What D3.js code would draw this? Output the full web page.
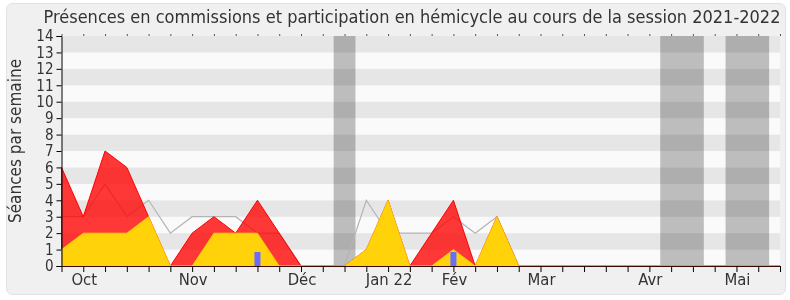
<!DOCTYPE html>
<html>
<head>
<meta charset="utf-8">
<script src="https://cdn.jsdelivr.net/npm/d3@7"></script>
<style>
  body { margin: 0; background: #fff; }
  svg text { font-family: "DejaVu Sans Condensed", "DejaVu Sans", sans-serif; font-stretch: condensed; fill: #333; }
</style>
</head>
<body>
<script>
// weekly values, week 0 = first week of the session
var commissions = [6,3,7,6,3,0,2,3,2,4,2,0,0,0,1,4,0,2,4,0,3,0,0,0,0,0,0,0,0,0,0,0,0,0];
var hemicycle   = [1,2,2,2,3,0,0,2,2,2,0,0,0,0,1,4,0,0,1,0,3,0,0,0,0,0,0,0,0,0,0,0,0,0];
var mediane     = [3,3,5,3,4,2,3,3,3,2,2,0,0,0,4,2,2,2,3,2,3,0,0,0,0,0,0,0,0,0,0,0,0,0];
var questionsWeeks = [9, 18];
var questionsVals  = [0.85, 0.85];
var vacances = [[12.5,13.5],[27.5,29.5],[30.5,32.5]];
var monthLabels = ["Oct","Nov","Déc","Jan 22","Fév","Mar","Avr","Mai"];
var monthWeeks  = [1, 6, 11, 15, 18, 22, 27, 31];
var yTicks = [0,1,2,3,4,5,6,7,8,9,10,11,12,13,14];

var width = 790, height = 300;
var svg = d3.select("body").append("svg")
    .attr("width", width).attr("height", height);

// panel
svg.append("rect")
    .attr("x", 6.5).attr("y", 3.5).attr("width", 779).attr("height", 291)
    .attr("rx", 6).attr("fill", "#f0f0f0").attr("stroke", "#e2e2e2");

var x = d3.scaleLinear().domain([0, 33]).range([61.5, 780]);
var y = d3.scaleLinear().domain([0, 14]).range([266, 36]);

// stripes
svg.selectAll(".stripe")
    .data(yTicks.slice(0, 14))
  .enter().append("rect")
    .attr("x", x(0)).attr("width", x(33) - x(0))
    .attr("y", function(d){ return y(d + 1); })
    .attr("height", function(d){ return y(d) - y(d + 1); })
    .attr("fill", function(d){ return d % 2 ? "#e6e6e6" : "#fafafa"; });

// holidays
svg.selectAll(".vac")
    .data(vacances)
  .enter().append("rect")
    .attr("x", function(d){ return x(d[0]); })
    .attr("width", function(d){ return x(d[1]) - x(d[0]); })
    .attr("y", y(14)).attr("height", y(0) - y(14))
    .attr("fill", "#c1c1c1")
    .style("mix-blend-mode", "multiply");

// median line
var line = d3.line()
    .x(function(d, i){ return x(i); })
    .y(function(d){ return y(d); });
svg.append("path")
    .datum(mediane)
    .attr("d", line)
    .attr("fill", "none").attr("stroke", "#b4b4b4").attr("stroke-width", 1.2);

var area = d3.area()
    .x(function(d, i){ return x(i); })
    .y0(y(0))
    .y1(function(d){ return y(d); });

svg.append("path")
    .datum(commissions)
    .attr("d", area)
    .attr("fill", "rgba(255,0,0,0.78)").attr("stroke", "#ff0000").attr("stroke-width", 1);

svg.append("path")
    .datum(hemicycle)
    .attr("d", area)
    .attr("fill", "#ffd20a").attr("stroke", "#ffd700").attr("stroke-width", 0.8);

// questions
svg.selectAll(".q")
    .data(questionsWeeks)
  .enter().append("rect")
    .attr("x", function(d){ return x(d) - 3; })
    .attr("width", 6)
    .attr("y", function(d, i){ return y(questionsVals[i]); })
    .attr("height", function(d, i){ return y(0) - y(questionsVals[i]); })
    .attr("fill", "#6b6bff");

// axes
var weeks = d3.range(0, 34);
var yAxis = d3.axisLeft(y).tickValues(yTicks).tickSize(5).tickPadding(3);
var gy = svg.append("g").attr("transform", "translate(61.5,0)").call(yAxis);
gy.select(".domain").attr("stroke", "#000");
gy.selectAll("text").style("font-size", "15px").attr("fill", "#333");

var xAxis = d3.axisBottom(x).tickValues(weeks).tickSize(6).tickFormat("");
var gx = svg.append("g").attr("transform", "translate(0,266)").call(xAxis);
gx.select(".domain").attr("stroke", "#3a0a00").attr("d", "M61.5,0.5H780.5");

var xTop = d3.axisTop(x).tickValues(weeks).tickSize(2).tickFormat("");
var gt = svg.append("g").attr("transform", "translate(0,36)").call(xTop);
gt.select(".domain").remove();
gt.selectAll("line").attr("stroke", "#555");

svg.selectAll(".month")
    .data(monthLabels)
  .enter().append("text")
    .attr("x", function(d, i){ return x(monthWeeks[i]) + 1; })
    .attr("y", 285)
    .attr("text-anchor", "middle")
    .style("font-size", "16.5px")
    .text(function(d){ return d; });

svg.append("text")
    .attr("x", 412).attr("y", 23)
    .attr("text-anchor", "middle")
    .style("font-size", "18px")
    .text("Présences en commissions et participation en hémicycle au cours de la session 2021-2022");

svg.append("text")
    .attr("transform", "translate(21,141) rotate(-90)")
    .attr("text-anchor", "middle")
    .style("font-size", "17px")
    .text("Séances par semaine");
</script>
</body>
</html>
